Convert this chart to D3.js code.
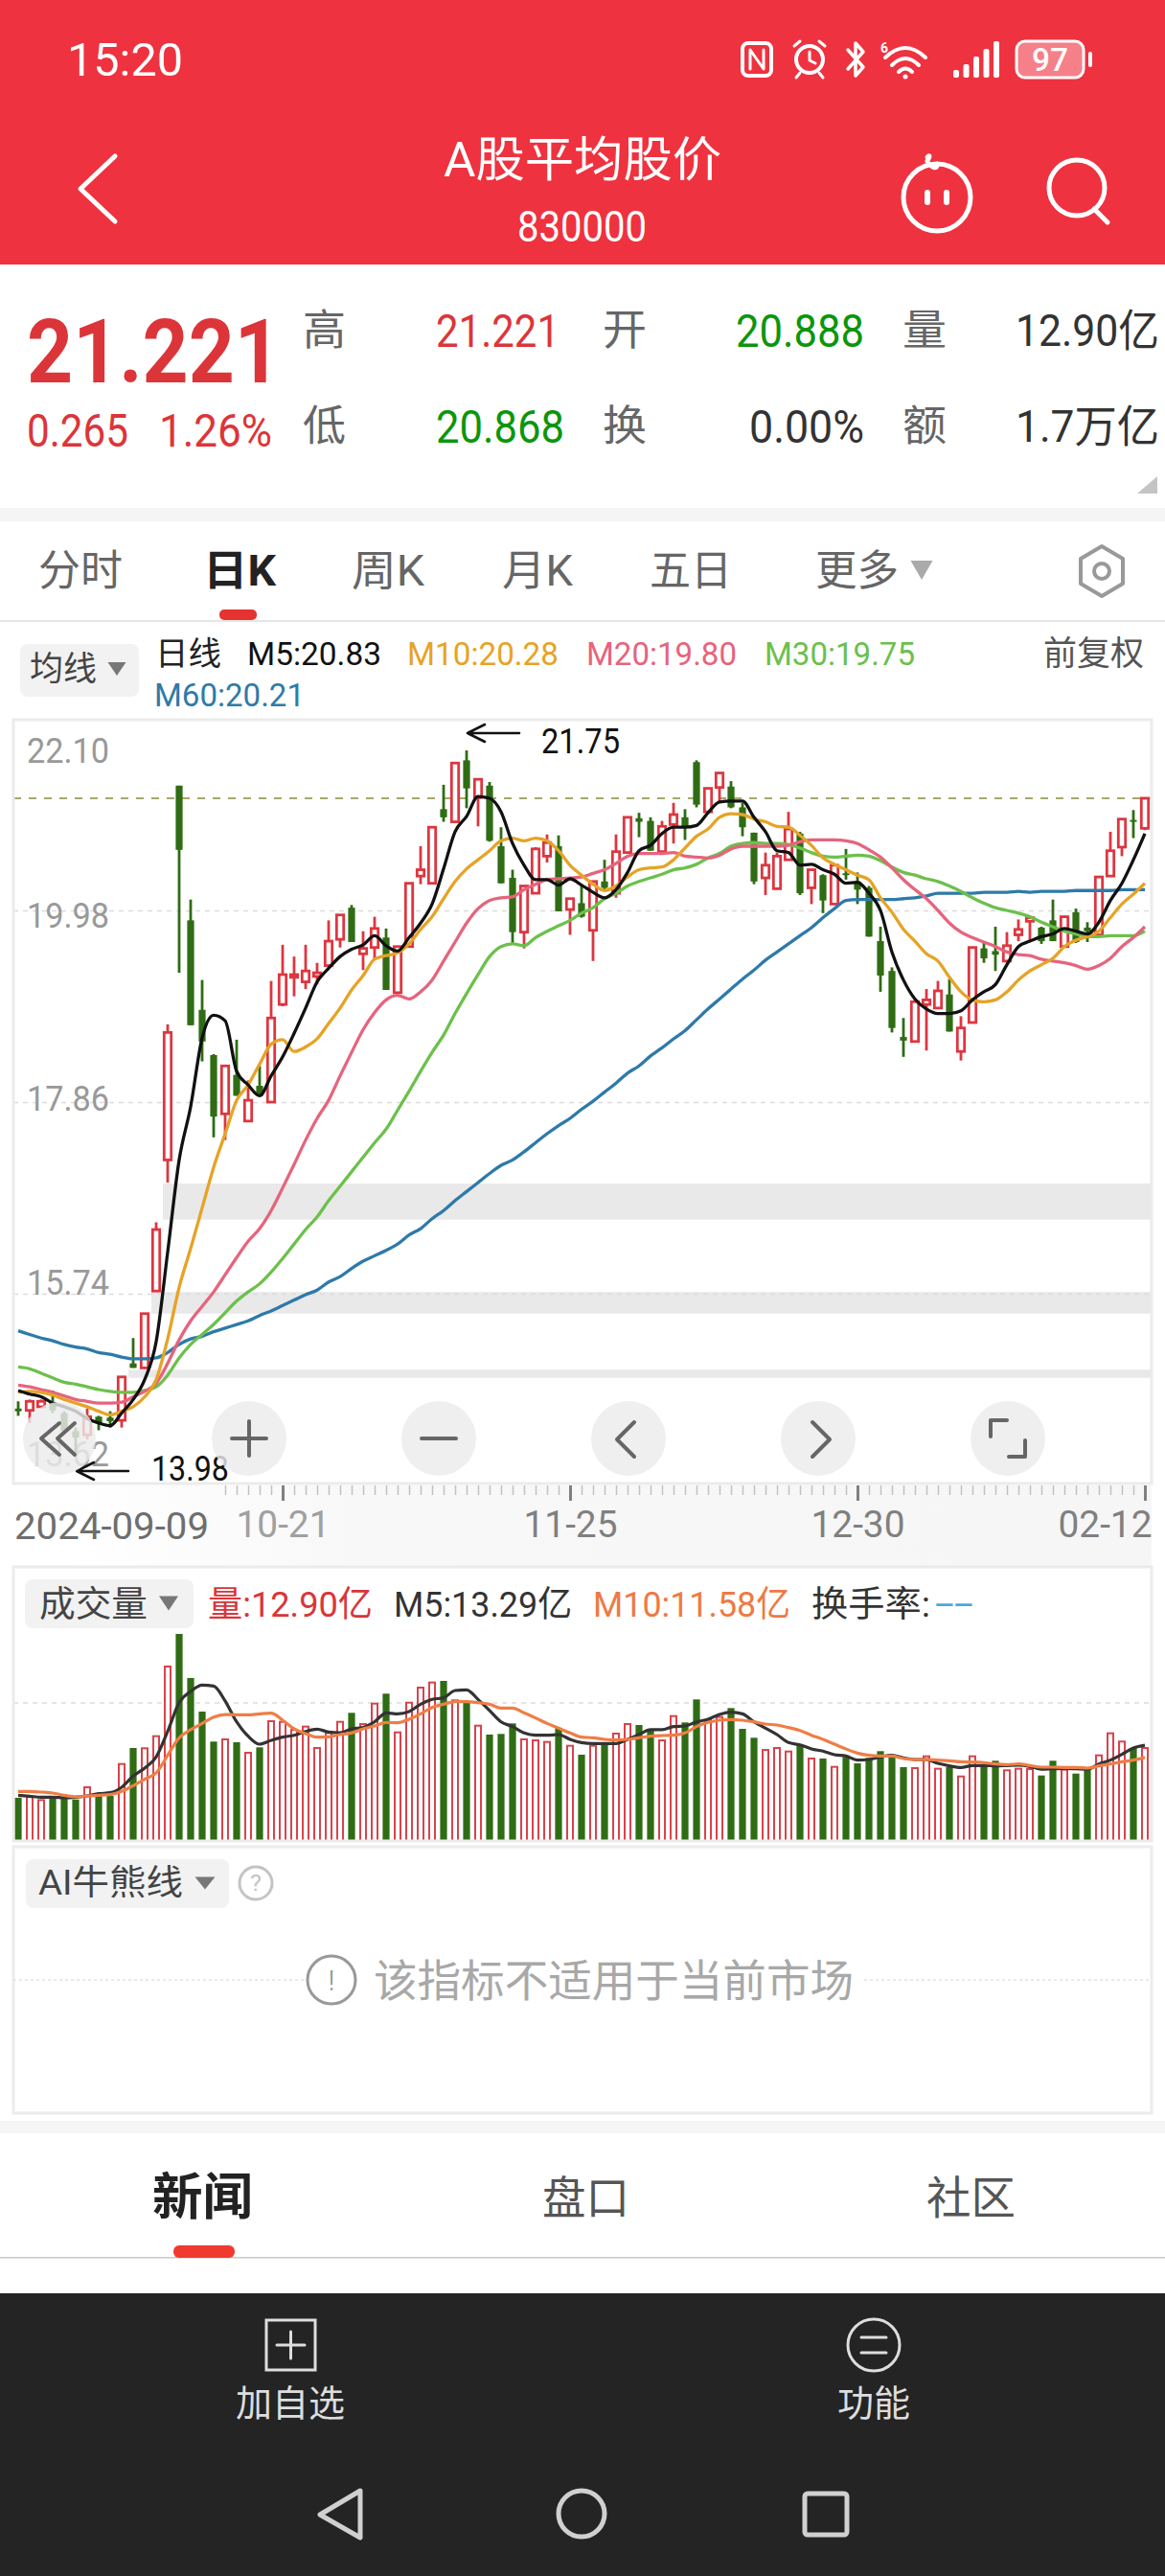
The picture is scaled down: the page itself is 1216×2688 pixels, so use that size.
<!DOCTYPE html>
<html>
<head>
<meta charset="utf-8">
<title>A股平均股价</title>
<script src="https://cdn.jsdelivr.net/npm/d3@7"></script>
<style>
html, body { margin: 0; padding: 0; background: #fff; }
svg { display: block; }
text { font-family: Roboto, "Noto Sans CJK SC", sans-serif; }
</style>
</head>
<body>
<svg id="page" width="1216" height="2688"></svg>
<script>
"use strict";

// daily candles, 2024-09-09 to 2025-02-12
var opens = [14.47,14.45,14.49,14.54,14.42,14.22,14.18,14.38,14.37,14.34,14.97,14.92,15.77,17.22,21.36,19.87,18.88,18.38,17.73,18.16,
    17.65,18.04,17.86,18.94,19.24,19.19,19.25,19.37,19.66,20.01,19.50,19.57,19.68,19.07,19.58,20.36,20.28,21.10,20.96,21.64,
    21.23,21.36,20.69,20.34,19.74,20.17,20.58,20.69,19.99,20.06,19.76,20.30,20.17,20.62,21.00,20.97,20.63,20.93,21.01,21.62,
    21.07,21.34,21.35,21.12,20.84,20.34,20.22,20.54,20.83,20.23,20.37,20.05,20.39,20.30,20.23,19.64,19.31,18.58,18.53,18.94,
    18.90,19.05,18.42,18.74,19.56,19.53,19.42,19.71,19.86,19.79,19.87,19.58,19.96,19.79,19.71,20.36,20.68,20.98,20.888];
var closes = [14.44,14.55,14.55,14.45,14.22,14.15,14.38,14.31,14.33,14.82,14.92,15.52,16.45,18.63,20.65,18.71,18.53,17.70,18.26,17.93,
    17.88,17.93,18.79,19.27,19.27,19.31,19.29,19.64,19.93,19.63,19.56,19.78,19.10,19.58,20.28,20.43,20.90,21.01,21.61,21.33,
    21.43,20.75,20.28,19.74,20.25,20.66,20.73,19.97,20.11,19.91,20.30,20.23,20.63,21.01,20.96,20.64,20.91,21.04,20.91,21.15,
    21.33,21.50,21.12,20.90,20.30,20.48,20.58,20.88,20.17,20.43,20.09,20.48,20.37,20.21,19.69,19.26,18.68,18.54,18.97,18.99,
    19.09,18.64,18.68,19.57,19.45,19.49,19.59,19.77,19.90,19.64,19.64,19.91,19.63,19.75,20.35,20.64,20.99,20.96,21.221];
var highs = [14.55,14.57,14.57,14.67,14.44,14.26,14.47,14.39,14.44,14.82,15.25,15.52,16.53,18.72,21.36,20.10,19.21,18.39,18.26,18.55,
    18.10,18.26,19.20,19.60,19.47,19.60,19.40,19.87,19.93,20.04,19.75,19.91,19.78,19.58,20.28,20.69,20.90,21.37,21.61,21.75,
    21.43,21.40,20.90,20.43,20.25,20.68,20.82,20.81,20.11,20.25,20.30,20.54,20.82,21.01,21.06,21.01,20.97,21.17,21.10,21.64,
    21.33,21.50,21.41,21.17,20.84,20.62,20.62,21.07,20.85,20.43,20.38,20.49,20.66,20.40,20.25,19.80,19.35,18.79,18.97,19.11,
    19.20,19.22,18.81,19.57,19.63,19.80,19.74,19.88,19.90,19.80,20.10,19.92,20.00,19.85,20.35,20.85,20.99,21.09,21.221];
var lows = [14.39,14.31,14.47,14.42,14.20,13.98,14.13,14.23,14.26,14.26,14.92,14.91,15.77,16.97,19.29,18.71,18.31,17.47,17.44,17.93,
    17.65,17.93,17.86,18.92,19.03,19.11,19.16,19.34,19.57,19.63,19.32,19.45,19.10,19.07,19.58,20.27,20.27,20.96,20.96,21.11,
    20.91,20.74,20.28,19.61,19.56,20.16,20.51,19.97,19.71,19.90,19.42,20.21,20.12,20.62,20.79,20.64,20.62,20.72,20.76,21.12,
    21.07,21.18,21.11,20.80,20.27,20.15,20.22,20.54,20.15,20.05,19.95,20.05,20.32,20.05,19.69,19.08,18.63,18.36,18.53,18.43,
    18.90,18.64,18.32,18.74,19.40,19.31,19.40,19.64,19.64,19.61,19.64,19.58,19.62,19.63,19.71,20.36,20.58,20.78,20.868];

var ma5 = [14.67,14.63,14.60,14.53,14.49,14.44,14.36,14.31,14.28,14.42,14.57,14.79,15.21,16.20,17.22,17.81,18.57,18.82,18.76,18.20,
    18.05,17.93,18.15,18.36,18.62,18.90,19.19,19.34,19.47,19.55,19.60,19.70,19.59,19.53,19.68,19.84,20.05,20.44,20.85,21.02,
    21.24,21.22,21.07,20.72,20.48,20.32,20.32,20.26,20.33,20.26,20.18,20.12,20.21,20.40,20.64,20.70,20.83,20.90,20.90,20.92,
    21.06,21.18,21.19,21.19,21.01,20.85,20.64,20.62,20.48,20.49,20.43,20.38,20.28,20.29,20.17,19.98,19.52,19.21,19.00,18.89,
    18.84,18.84,18.87,18.99,19.08,19.16,19.38,19.58,19.64,19.69,19.72,19.78,19.75,19.72,19.85,20.09,20.28,20.54,20.83];
var ma10 = [14.65,14.66,14.65,14.62,14.57,14.53,14.49,14.44,14.40,14.44,14.49,14.60,14.79,15.24,15.81,16.24,16.69,17.14,17.51,17.88,
    18.05,18.28,18.50,18.55,18.42,18.47,18.56,18.73,18.90,19.10,19.26,19.44,19.48,19.51,19.61,19.77,19.91,20.11,20.30,20.44,
    20.54,20.64,20.75,20.78,20.75,20.78,20.75,20.64,20.48,20.37,20.27,20.20,20.25,20.35,20.43,20.45,20.46,20.54,20.67,20.80,
    20.88,21.01,21.05,21.04,20.99,20.96,20.91,20.90,20.81,20.70,20.56,20.49,20.43,20.37,20.32,20.12,19.96,19.77,19.64,19.50,
    19.42,19.24,19.08,18.99,18.97,18.99,19.08,19.21,19.31,19.38,19.45,19.58,19.65,19.69,19.75,19.90,20.05,20.16,20.28];
var ma20 = [14.73,14.71,14.68,14.65,14.61,14.57,14.55,14.53,14.53,14.54,14.60,14.66,14.75,14.97,15.23,15.44,15.60,15.76,15.95,16.14,
    16.32,16.46,16.66,16.91,17.17,17.44,17.68,17.88,18.15,18.41,18.66,18.85,18.99,19.04,19.00,19.08,19.21,19.42,19.63,19.84,
    20.00,20.09,20.12,20.13,20.21,20.27,20.32,20.33,20.34,20.35,20.39,20.43,20.50,20.58,20.61,20.61,20.61,20.62,20.58,20.57,
    20.56,20.59,20.66,20.69,20.69,20.69,20.69,20.70,20.74,20.76,20.76,20.76,20.75,20.72,20.65,20.57,20.45,20.32,20.21,20.11,
    19.98,19.84,19.74,19.68,19.63,19.58,19.52,19.49,19.48,19.44,19.42,19.40,19.37,19.33,19.37,19.45,19.58,19.68,19.80];
var ma30 = [14.93,14.91,14.86,14.81,14.76,14.74,14.71,14.68,14.66,14.65,14.65,14.67,14.71,14.84,15.03,15.18,15.29,15.40,15.53,15.66,
    15.76,15.85,15.98,16.13,16.29,16.45,16.59,16.77,16.93,17.09,17.25,17.41,17.56,17.77,17.98,18.20,18.41,18.60,18.84,19.06,
    19.27,19.47,19.58,19.61,19.59,19.68,19.75,19.81,19.87,19.95,20.01,20.11,20.17,20.25,20.30,20.34,20.38,20.43,20.45,20.49,
    20.56,20.61,20.69,20.72,20.73,20.72,20.72,20.71,20.67,20.62,20.58,20.57,20.58,20.59,20.58,20.53,20.46,20.40,20.37,20.33,
    20.30,20.25,20.19,20.12,20.06,20.01,19.98,19.95,19.91,19.85,19.80,19.75,19.72,19.69,19.69,19.70,19.70,19.70,19.75];
var ma60 = [15.33,15.29,15.25,15.22,15.18,15.15,15.13,15.09,15.07,15.04,15.02,15.02,15.03,15.09,15.18,15.24,15.27,15.32,15.36,15.40,
    15.44,15.50,15.55,15.61,15.67,15.73,15.78,15.87,15.93,16.02,16.10,16.16,16.22,16.29,16.39,16.46,16.57,16.66,16.77,16.87,
    16.97,17.07,17.16,17.22,17.31,17.41,17.51,17.60,17.68,17.78,17.87,17.97,18.07,18.18,18.26,18.37,18.46,18.56,18.65,18.77,
    18.89,19.00,19.11,19.22,19.32,19.43,19.52,19.61,19.70,19.79,19.90,20.00,20.09,20.10,20.10,20.10,20.10,20.11,20.12,20.14,
    20.17,20.17,20.17,20.17,20.18,20.18,20.18,20.19,20.18,20.19,20.19,20.19,20.20,20.20,20.20,20.20,20.21,20.21,20.21];

// volume, in 亿
var volumes = [5.99,6.12,5.67,5.90,5.90,5.76,7.45,6.34,6.25,10.68,12.90,12.86,14.54,24.20,28.73,22.61,17.95,13.79,14.10,13.70,
    12.24,12.99,16.62,16.53,15.43,15.87,12.90,14.98,16.53,17.78,16.22,19.06,20.44,15.07,19.19,21.28,21.99,22.21,19.51,19.42,
    16.00,14.76,14.85,16.31,14.10,13.96,13.74,15.65,13.21,11.97,13.21,13.65,14.90,16.22,16.09,15.43,13.96,17.33,16.45,19.64,
    16.76,17.20,18.44,15.56,14.32,12.63,12.90,12.41,13.21,11.44,11.44,10.28,11.66,10.77,11.53,12.46,12.01,10.24,10.11,11.75,
    10.02,10.24,8.95,11.75,10.33,11.13,9.80,10.02,9.97,9.09,11.13,9.89,9.35,9.89,11.88,14.94,13.79,12.90,12.90];
var volMa5 = [6.34,6.21,6.07,6.07,5.99,6.07,6.25,6.56,6.69,7.45,9.00,10.11,11.66,15.20,19.20,20.75,21.63,21.50,19.42,16.53,
    14.54,13.43,13.96,14.41,14.67,15.20,15.51,15.12,15.03,15.56,15.74,16.53,17.78,17.64,17.95,18.97,19.64,19.86,20.88,20.97,
    19.64,18.09,16.53,15.87,14.98,14.67,14.67,14.76,14.10,13.65,13.52,13.52,13.52,14.10,14.76,15.43,15.43,15.87,15.96,16.53,
    16.89,17.55,17.87,17.64,16.53,15.65,14.76,13.65,13.34,12.77,12.46,11.97,11.79,11.22,11.30,11.66,11.88,11.53,11.30,11.30,
    10.77,10.42,10.20,10.46,10.46,10.42,10.46,10.51,10.33,9.97,10.02,10.06,10.02,9.97,10.68,11.22,12.01,12.90,13.29];
var volMa10 = [6.87,6.87,6.78,6.65,6.34,6.12,6.25,6.34,6.43,6.87,7.67,8.56,9.44,11.88,14.32,15.43,16.31,17.20,17.55,17.51,
    17.51,17.64,17.73,16.76,15.56,14.90,14.41,14.45,14.76,14.98,15.56,15.96,16.45,16.40,16.89,17.64,18.53,18.97,19.33,19.33,
    19.19,18.97,18.44,18.44,17.78,17.07,16.31,15.65,14.98,14.41,14.32,14.10,14.01,14.10,14.32,14.54,14.63,14.67,14.98,15.87,
    16.45,16.76,16.85,16.76,16.53,16.22,16.09,15.74,15.34,14.67,14.10,13.43,12.77,12.19,11.88,11.79,11.79,11.44,11.30,11.30,
    11.22,11.13,10.99,10.95,10.86,10.68,10.60,10.68,10.46,10.24,10.24,10.20,10.20,10.11,10.42,10.68,10.99,11.22,11.58];

// axis ticks
var priceTicks = [22.10, 19.98, 17.86, 15.74, 13.62];
var dateTickIndex = [23, 48, 73, 98];
var dateTickLabels = ["10-21", "11-25", "12-30", "02-12"];
var firstDate = "2024-09-09";

// unfilled gaps: start candle, upper price, lower price
var gapStart = [13, 12, 10];
var gapTop = [16.96, 15.76, 14.90];
var gapBottom = [16.56, 15.52, 14.81];

var maxIndex = 39, maxLabel = "21.75";
var minIndex = 5, minLabel = "13.98";

var red = "#dd3640", green = "#2f6c14";
var cMa5 = "#111111", cMa10 = "#e6a326", cMa20 = "#e6647c", cMa30 = "#6cc04c", cMa60 = "#2e7aa9";

var svg = d3.select("#page");

var x = d3.scaleLinear().domain([0, opens.length - 1]).range([19, 1195]);
var y = d3.scaleLinear().domain([priceTicks[0], priceTicks[priceTicks.length - 1]]).range([750, 1550]);
var yVol = d3.scaleLinear().domain([0, 38.3]).range([1921, 1633]);

// text helper: x0..x1 is the box the reference text fills
function txt(s, x0, x1, cy, size, color, weight) {
    return svg.append("text")
        .attr("x", x0)
        .attr("y", cy)
        .attr("dominant-baseline", "central")
        .attr("font-size", size)
        .attr("font-weight", weight || 400)
        .attr("fill", color)
        .attr("textLength", x1 - x0)
        .attr("lengthAdjust", "spacingAndGlyphs")
        .text(s);
}
function rect(x0, y0, x1, y1, fill, r) {
    return svg.append("rect")
        .attr("x", x0).attr("y", y0)
        .attr("width", x1 - x0).attr("height", y1 - y0)
        .attr("rx", r || 0)
        .attr("fill", fill);
}
function stroke(d, color, w) {
    return svg.append("path")
        .attr("d", d)
        .attr("fill", "none")
        .attr("stroke", color)
        .attr("stroke-width", w)
        .attr("stroke-linecap", "round")
        .attr("stroke-linejoin", "round");
}
function circle(cx, cy, r, fill, line, w) {
    return svg.append("circle")
        .attr("cx", cx).attr("cy", cy).attr("r", r)
        .attr("fill", fill)
        .attr("stroke", line || "none")
        .attr("stroke-width", w || 0);
}
function tri(cx, cy, w, h, color) {
    return svg.append("path")
        .attr("d", "M" + (cx - w / 2) + "," + (cy - h / 2) + "L" + (cx + w / 2) + "," + (cy - h / 2) + "L" + cx + "," + (cy + h / 2) + "Z")
        .attr("fill", color);
}

// ---- header ----
rect(0, 0, 1216, 276, "#ef323f");
txt("15:20", 70, 191, 62, 49, "#fff");

// status icons
svg.append("rect").attr("x", 775).attr("y", 45).attr("width", 30).attr("height", 34).attr("rx", 6)
    .attr("fill", "none").attr("stroke", "#fff").attr("stroke-width", 4);
stroke("M783,72L783,52L797,72L797,52", "#fff", 3);
circle(845, 62, 14, "none", "#fff", 4);
stroke("M845,54L845,63L851,66M829,48L835,43M861,48L855,43M835,76L831,81M855,76L859,81", "#fff", 3);
stroke("M885,52L901,70L893,79L893,45L901,54L885,72", "#fff", 3.5);
txt("6", 919, 927, 50, 14, "#fff", 700);
stroke("M924,60Q945,40 966,60M931,68Q945,54 959,68M938,75Q945,68 952,75", "#fff", 4);
circle(945, 80, 2.5, "#fff");
[0, 1, 2, 3, 4].forEach(function (i) {
    var h = [8, 14, 22, 30, 38][i];
    rect(995 + i * 10.5, 81 - h, 1001 + i * 10.5, 81, "#fff", 2);
});
svg.append("rect").attr("x", 1061).attr("y", 43).attr("width", 70).attr("height", 38).attr("rx", 9)
    .attr("fill", "#f5808a").attr("stroke", "#fff").attr("stroke-width", 3);
txt("97", 1077, 1115, 62, 34, "#fff", 500);
rect(1136, 54, 1140, 70, "#fff", 2);

// nav bar
stroke("M120,163L84,197L120,231", "#fff", 5);
txt("A股平均股价", 463, 753, 167, 50, "#fff", 400);
txt("830000", 540, 675, 237, 44, "#fff");
circle(978, 206, 35, "none", "#fff", 5);
stroke("M968,168Q972,160 968,164M971,172Q978,178 978,171", "#fff", 5);
rect(965, 198, 971, 214, "#fff", 3);
rect(985, 198, 991, 214, "#fff", 3);
circle(1124, 196, 29, "none", "#fff", 5);
stroke("M1142,218L1156,232", "#fff", 5);

// ---- quote block ----
var qRed = "#dc3539", qGreen = "#0b960b", qDark = "#333", qGrey = "#666";
txt("21.221", 28, 293, 367, 92, qRed, 700);
txt("0.265", 28, 134, 449, 48, qRed);
txt("1.26%", 166, 284, 449, 48, qRed);
txt("高", 316, 361, 345, 44, qGrey);
txt("低", 316, 361, 445, 44, qGrey);
txt("21.221", 455, 584, 345, 48, qRed);
txt("20.868", 455, 589, 445, 48, qGreen);
txt("开", 629, 675, 345, 44, qGrey);
txt("换", 629, 675, 445, 44, qGrey);
txt("20.888", 768, 902, 345, 48, qGreen);
txt("0.00%", 782, 902, 445, 48, qDark);
txt("量", 942, 988, 345, 44, qGrey);
txt("额", 942, 988, 445, 44, qGrey);
txt("12.90亿", 1060, 1210, 345, 46, qDark);
txt("1.7万亿", 1060, 1210, 445, 46, qDark);
svg.append("path").attr("d", "M1187,515L1208,515L1208,497Z").attr("fill", "#c4c4c4");
rect(0, 530, 1216, 544, "#f5f5f5");

// ---- period tabs ----
txt("分时", 40, 128, 596, 44, "#666");
txt("日K", 212, 288, 596, 44, "#222", 700);
txt("周K", 367, 443, 596, 44, "#666");
txt("月K", 524, 598, 596, 44, "#666");
txt("五日", 678, 764, 596, 44, "#666");
txt("更多", 851, 938, 596, 44, "#666");
tri(962, 595, 23, 20, "#aaa");
stroke("M1150,570L1172,583L1172,609L1150,622L1128,609L1128,583Z", "#999", 4);
circle(1150, 596, 8, "none", "#999", 4);
rect(229, 636, 268, 647, "#e53331", 5);
rect(0, 647, 1216, 649, "#e6e6e6");

// ---- MA legend ----
rect(21, 672, 145, 727, "#f2f2f2", 8);
txt("均线", 31, 101, 698, 35, "#444");
tri(122, 698, 19, 14, "#777");
txt("日线", 162, 231, 682, 34, "#222");
txt("M5:20.83", 258, 398, 682, 34, cMa5);
txt("M10:20.28", 425, 583, 682, 34, cMa10);
txt("M20:19.80", 612, 769, 682, 34, cMa20);
txt("M30:19.75", 798, 955, 682, 34, cMa30);
txt("前复权", 1089, 1194, 682, 35, "#555");
txt("M60:20.21", 161, 318, 725, 34, cMa60);

// ---- price panel ----
var frameX0 = 14, frameX1 = 1202;

svg.selectAll(".gap")
    .data(gapStart)
    .enter().append("rect")
    .attr("class", "gap")
    .attr("x", function (d) { return x(d) - 5; })
    .attr("y", function (d, i) { return y(gapTop[i]); })
    .attr("width", function (d) { return frameX1 - x(d) + 5; })
    .attr("height", function (d, i) { return y(gapBottom[i]) - y(gapTop[i]); })
    .attr("fill", "#e9e9e9");

var labelDy = [33, 5, -4, -12, -33];
var yAxis = svg.append("g")
    .attr("transform", "translate(" + frameX0 + ",0)")
    .call(d3.axisRight(y).tickValues(priceTicks).tickSize(frameX1 - frameX0).tickFormat(d3.format(".2f")));
yAxis.select(".domain").remove();
yAxis.selectAll("line")
    .attr("stroke", "#dcdcdc")
    .attr("stroke-width", 1.5)
    .attr("stroke-dasharray", "5,5")
    .attr("display", function (d, i) { return (i === 0 || i === priceTicks.length - 1) ? "none" : null; });
yAxis.selectAll("text")
    .attr("x", 14)
    .attr("dy", "0")
    .attr("dominant-baseline", "central")
    .attr("text-anchor", "start")
    .attr("font-size", 37)
    .attr("fill", "#999")
    .attr("textLength", 86)
    .attr("lengthAdjust", "spacingAndGlyphs")
    .attr("transform", function (d, i) { return "translate(0," + labelDy[i] + ")"; })
    .style("font-family", "Roboto");

// latest close line
svg.append("line")
    .attr("x1", frameX0).attr("x2", frameX1)
    .attr("y1", y(closes[closes.length - 1])).attr("y2", y(closes[closes.length - 1]))
    .attr("stroke", "#a9a868")
    .attr("stroke-width", 2)
    .attr("stroke-dasharray", "8,8");

var idx = d3.range(opens.length);
var candle = svg.selectAll(".candle")
    .data(idx)
    .enter().append("g")
    .attr("class", "candle");

candle.append("line")
    .attr("x1", function (i) { return x(i); })
    .attr("x2", function (i) { return x(i); })
    .attr("y1", function (i) { return y(highs[i]); })
    .attr("y2", function (i) { return y(lows[i]); })
    .attr("stroke", function (i) { return closes[i] >= opens[i] ? red : green; })
    .attr("stroke-width", 2.8);

candle.append("rect")
    .attr("x", function (i) { return closes[i] >= opens[i] ? x(i) - 3.7 : x(i) - 3.6; })
    .attr("width", function (i) { return closes[i] >= opens[i] ? 7.4 : 7.2; })
    .attr("y", function (i) { return y(Math.max(opens[i], closes[i])); })
    .attr("height", function (i) { return Math.abs(y(opens[i]) - y(closes[i])); })
    .attr("fill", function (i) { return closes[i] >= opens[i] ? "#fff" : green; })
    .attr("stroke", function (i) { return closes[i] >= opens[i] ? red : "none"; })
    .attr("stroke-width", 2.8);

var priceLine = d3.line()
    .curve(d3.curveMonotoneX)
    .x(function (d, i) { return x(i); })
    .y(function (d) { return y(d); });
[[ma60, cMa60], [ma30, cMa30], [ma20, cMa20], [ma10, cMa10], [ma5, cMa5]].forEach(function (m) {
    svg.append("path")
        .datum(m[0])
        .attr("d", priceLine)
        .attr("fill", "none")
        .attr("stroke", m[1])
        .attr("stroke-width", 3.3)
        .attr("stroke-linejoin", "round");
});

// high / low markers
function marker(i, ay, label, tx0, tx1, ty) {
    var tip = x(i) + 1;
    stroke("M" + tip + "," + ay + "L" + (tip + 54) + "," + ay + "M" + (tip + 18) + "," + (ay - 9) + "L" + tip + "," + ay + "L" + (tip + 18) + "," + (ay + 9), "#111", 2.6);
    txt(label, tx0, tx1, ty, 37, "#111");
}
marker(maxIndex, 765, maxLabel, 565, 647, 773);
marker(minIndex, 1535, minLabel, 158, 239, 1532);

// frame
svg.append("rect")
    .attr("x", frameX0).attr("y", 751)
    .attr("width", frameX1 - frameX0).attr("height", 797)
    .attr("fill", "none").attr("stroke", "#ebebeb").attr("stroke-width", 3);

// zoom buttons
var btnFill = "rgba(236,236,236,0.82)", btnLine = "#666";
circle(62, 1501, 38, btnFill);
stroke("M62,1485L43,1501L62,1518M78,1485L60,1501L78,1518", btnLine, 4);
circle(260, 1501, 39, btnFill);
stroke("M242,1501L278,1501M260,1483L260,1519", btnLine, 4);
circle(458, 1501, 39, btnFill);
stroke("M440,1501L476,1501", btnLine, 4);
circle(656, 1501, 39, btnFill);
stroke("M662,1484L644,1502L662,1520", btnLine, 4);
circle(854, 1501, 39, btnFill);
stroke("M848,1484L866,1502L848,1520", btnLine, 4);
circle(1052, 1501, 39, btnFill);
stroke("M1034,1499L1034,1482L1051,1482M1070,1503L1070,1520L1053,1520", btnLine, 4);

// ---- date axis ----
var defs = svg.append("defs");
var grad = defs.append("linearGradient").attr("id", "fade");
grad.append("stop").attr("offset", "0.05").attr("stop-color", "#ffffff");
grad.append("stop").attr("offset", "0.3").attr("stop-color", "#f8f8f8");
grad.append("stop").attr("offset", "1").attr("stop-color", "#f6f6f6");
rect(frameX0, 1550, frameX1, 1634, "url(#fade)");

var minorAxis = svg.append("g")
    .attr("transform", "translate(0,1550)")
    .call(d3.axisBottom(x).tickValues(d3.range(18, opens.length)).tickSize(10).tickFormat(""));
minorAxis.select(".domain").remove();
minorAxis.selectAll("line").attr("stroke", "#c2c2c2").attr("stroke-width", 1.5);

var majorAxis = svg.append("g")
    .attr("transform", "translate(0,1550)")
    .call(d3.axisBottom(x).tickValues(dateTickIndex).tickSize(16).tickPadding(10)
        .tickFormat(function (d, i) { return dateTickLabels[i]; }));
majorAxis.select(".domain").remove();
majorAxis.selectAll("line").attr("stroke", "#808080").attr("stroke-width", 3);
majorAxis.selectAll("text")
    .attr("font-size", 39)
    .attr("fill", function (d, i) { return i === 0 ? "#a0a0a0" : "#808080"; })
    .attr("text-anchor", function (d, i) { return i === dateTickIndex.length - 1 ? "end" : "middle"; })
    .attr("dx", function (d, i) { return i === dateTickIndex.length - 1 ? 7 : 0; })
    .attr("textLength", 98)
    .attr("lengthAdjust", "spacingAndGlyphs")
    .style("font-family", "Roboto");
txt(firstDate, 15, 218, 1593, 39, "#6e6e6e");

// ---- volume panel ----
svg.append("line")
    .attr("x1", frameX0).attr("x2", frameX1)
    .attr("y1", 1777).attr("y2", 1777)
    .attr("stroke", "#dcdcdc").attr("stroke-width", 1.5).attr("stroke-dasharray", "5,5");

svg.selectAll(".vol")
    .data(idx)
    .enter().append("rect")
    .attr("class", "vol")
    .attr("x", function (i) { return closes[i] >= opens[i] ? x(i) - 3 : x(i) - 3.6; })
    .attr("width", function (i) { return closes[i] >= opens[i] ? 6 : 7.2; })
    .attr("y", function (i) { return yVol(volumes[i]); })
    .attr("height", function (i) { return yVol(0) - yVol(volumes[i]); })
    .attr("fill", function (i) { return closes[i] >= opens[i] ? "#fff" : green; })
    .attr("stroke", function (i) { return closes[i] >= opens[i] ? "#d9434c" : "none"; })
    .attr("stroke-width", 2);

var volLine = d3.line()
    .curve(d3.curveMonotoneX)
    .x(function (d, i) { return x(i); })
    .y(function (d) { return yVol(d); });
[[volMa5, "#333"], [volMa10, "#ee7e46"]].forEach(function (m) {
    svg.append("path")
        .datum(m[0])
        .attr("d", volLine)
        .attr("fill", "none")
        .attr("stroke", m[1])
        .attr("stroke-width", 3.2)
        .attr("stroke-linejoin", "round");
});

svg.append("rect")
    .attr("x", frameX0).attr("y", 1635)
    .attr("width", frameX1 - frameX0).attr("height", 286)
    .attr("fill", "none").attr("stroke", "#ebebeb").attr("stroke-width", 3);

rect(26, 1648, 202, 1699, "#f2f2f2", 8);
txt("成交量", 41, 154, 1674, 37, "#444");
tri(176, 1673, 20, 15, "#777");
txt("量:12.90亿", 217, 389, 1674, 37, "#d8363a");
txt("M5:13.29亿", 411, 597, 1674, 37, "#333");
txt("M10:11.58亿", 619, 825, 1674, 37, "#ee7a44");
txt("换手率:", 847, 971, 1674, 37, "#333");
txt("--", 976, 1016, 1674, 36, "#4aa8e0");

// ---- AI panel ----
svg.append("rect")
    .attr("x", frameX0).attr("y", 1927)
    .attr("width", frameX1 - frameX0).attr("height", 278)
    .attr("fill", "#fff").attr("stroke", "#ebebeb").attr("stroke-width", 3);
svg.append("line")
    .attr("x1", frameX0).attr("x2", frameX1)
    .attr("y1", 2066).attr("y2", 2066)
    .attr("stroke", "#e2e2e2").attr("stroke-width", 1.5).attr("stroke-dasharray", "3,3");
rect(27, 1940, 239, 1991, "#f2f2f2", 8);
txt("AI牛熊线", 40, 191, 1965, 36, "#444");
tri(214, 1965, 21, 13, "#777");
circle(267, 1965, 17, "#fff", "#c4c4c4", 3);
txt("?", 261, 273, 1965, 24, "#c4c4c4");
rect(330, 2030, 900, 2100, "#fff");
circle(346, 2066, 25, "#fff", "#999", 3);
txt("!", 343, 349, 2066, 30, "#999");
txt("该指标不适用于当前市场", 390, 891, 2067, 46, "#a8a8a8");

// ---- bottom tabs and toolbar ----
rect(0, 2213, 1216, 2226, "#f5f5f5");
txt("新闻", 159, 264, 2293, 52, "#222", 700);
txt("盘口", 566, 657, 2293, 47, "#555");
txt("社区", 967, 1060, 2293, 47, "#555");
rect(0, 2355, 1216, 2356.5, "#c8c8c8");
rect(181, 2343, 245, 2356, "#f03a30", 6);
rect(0, 2393, 1216, 2688, "#242424");

svg.append("rect").attr("x", 278).attr("y", 2421).attr("width", 51).attr("height", 52)
    .attr("fill", "none").attr("stroke", "#ddd").attr("stroke-width", 3);
stroke("M289,2447L318,2447M303.5,2433L303.5,2461", "#ddd", 3);
txt("加自选", 246, 360, 2508, 38, "#ddd");
circle(912, 2447, 27, "none", "#ddd", 3);
stroke("M899,2439L925,2439M899,2455L925,2455", "#ddd", 3);
txt("功能", 874, 950, 2508, 38, "#ddd");

stroke("M376,2599L334,2624L376,2648Z", "#d0d0d0", 5);
circle(607, 2623, 24, "none", "#d0d0d0", 5);
svg.append("rect").attr("x", 840).attr("y", 2602).attr("width", 44).attr("height", 43).attr("rx", 3)
    .attr("fill", "none").attr("stroke", "#d0d0d0").attr("stroke-width", 5);
</script>
</body>
</html>
